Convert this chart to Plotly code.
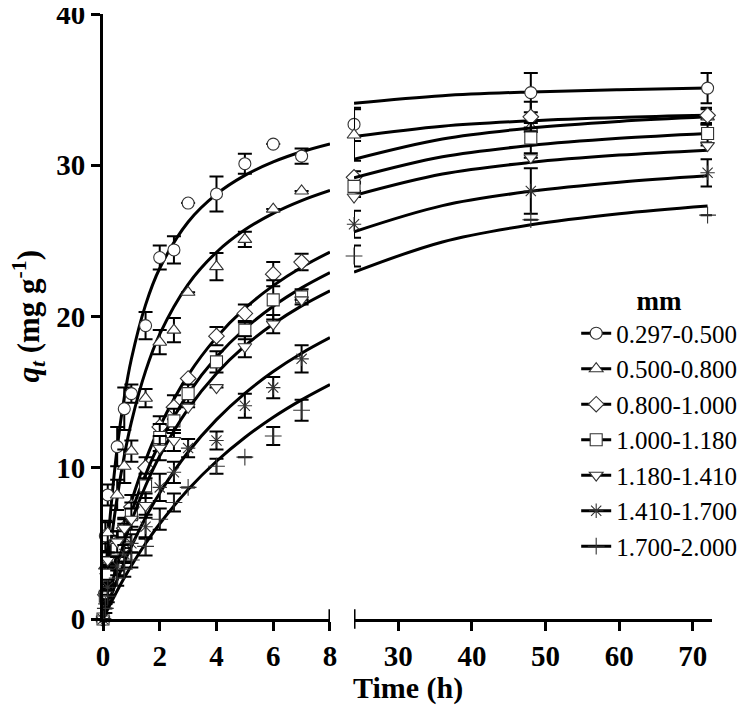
import plotly.graph_objects as go

# ---------------- data ----------------
time_early = [0, 0.083, 0.167, 0.5, 0.75, 1, 1.5, 2, 2.5, 3, 4, 5, 6, 7]
time_late = [24, 48, 72]

labels = ["0.297-0.500", "0.500-0.800", "0.800-1.000", "1.000-1.180",
          "1.180-1.410", "1.410-1.700", "1.700-2.000"]
symbols = ["circle", "triangle-up", "diamond", "square",
           "triangle-down", "asterisk-open", "cross-thin-open"]

q_0297 = [0, 5.5, 8.2, 11.4, 13.9, 14.9, 19.4, 23.9, 24.4, 27.5, 28.1, 30.1, 31.4, 30.6, 32.7, 34.8, 35.1]
q_0500 = [0, 3.5, 5.7, 8.2, 10.1, 11.1, 14.6, 18.3, 19.1, 21.6, 23.3, 25.1, 27.1, 28.3, 32.0, 32.5, 33.2]
q_0800 = [0, 1.6, 3.0, 5.0, 6.0, 7.4, 10.0, 12.7, 14.0, 15.9, 18.7, 20.2, 22.8, 23.6, 29.2, 33.2, 33.3]
q_1000 = [0, 1.5, 2.9, 4.6, 5.5, 6.9, 8.8, 12.0, 13.1, 14.9, 17.0, 19.1, 21.1, 21.3, 28.6, 31.8, 32.1]
q_1180 = [0, 1.6, 3.9, 5.1, 6.0, 6.6, 7.5, 11.3, 11.8, 14.0, 15.3, 18.0, 19.5, 21.1, 27.9, 30.5, 31.3]
q_1410 = [0, 1.0, 2.1, 3.5, 4.3, 5.0, 6.1, 8.7, 9.7, 11.3, 11.8, 14.1, 15.3, 17.2, 26.1, 28.3, 29.5]
q_1700 = [0, 0.7, 1.5, 2.7, 3.3, 3.9, 4.8, 6.6, 7.7, 8.7, 10.1, 10.7, 12.1, 13.8, 24.0, 26.4, 26.7]

e_0297 = [None, 1.0, 0.7, 1.3, 1.4, 0.6, 0.9, 0.8, 0.9, None, 1.15, 0.66, None, 0.5, 1.1, 1.3, 1.0]
e_0500 = [None, 0.6, 0.7, 1.0, 1.1, 0.7, 0.6, 0.8, 0.8, None, 0.9, 0.5, None, None, 1.7, None, 0.5]
e_0800 = [None, 0.5, 0.6, 0.8, 0.7, 0.8, 0.7, 0.7, 0.8, None, 0.6, 0.6, 0.8, 0.55, 0.4, 1.0, 0.5]
e_1000 = [None, 0.4, 0.6, 0.9, 0.8, 0.8, 0.8, 0.9, 0.8, 0.6, 0.7, 0.6, 1.3, 0.5, 0.3, 1.0, 0.6]
e_1180 = [None, 0.4, 0.5, 0.7, 0.6, 0.7, 0.8, 0.8, 0.7, None, None, 0.7, 0.6, None, None, None, None]
e_1410 = [None, 0.3, 0.5, 0.6, 0.6, 0.6, 0.8, 0.9, 0.7, 0.6, 0.6, 0.8, 0.7, 0.9, 0.9, 1.5, 0.9]
e_1700 = [None, 0.3, 0.4, 0.5, 0.5, 0.5, 0.6, 0.7, 0.6, None, 0.5, None, 0.6, 0.7, 0.7, None, None]

# fitted curves
curve_t_early = [0, 0.1, 0.25, 0.5, 0.75, 1, 1.5, 2, 3, 4, 5, 6, 7, 8]
curve_t_late = [24, 36, 48, 60, 72]
fit_0297 = [0, 3.04, 6.73, 11.33, 14.66, 17.19, 20.77, 23.19, 26.25, 28.09, 29.33, 30.22, 30.89, 31.41,
            34.1, 34.6, 34.85, 35.0, 35.1]
fit_0500 = [0, 1.98, 4.56, 8.04, 10.79, 13.02, 16.39, 18.84, 22.13, 24.25, 25.73, 26.82, 27.66, 28.33,
            31.9, 32.58, 32.94, 33.16, 33.3]
fit_0800 = [0, 0.97, 2.33, 4.38, 6.18, 7.77, 10.49, 12.71, 16.12, 18.62, 20.53, 22.04, 23.26, 24.26,
            30.4, 31.74, 32.46, 32.9, 33.2]
fit_1000 = [0, 0.87, 2.08, 3.92, 5.56, 7.03, 9.55, 11.64, 14.89, 17.32, 19.19, 20.68, 21.89, 22.9,
            29.17, 30.56, 31.31, 31.78, 32.1]
fit_1180 = [0, 0.78, 1.89, 3.58, 5.09, 6.45, 8.81, 10.78, 13.89, 16.23, 18.05, 19.5, 20.7, 21.7,
            28.0, 29.42, 30.19, 30.67, 31.0]
fit_1410 = [0, 0.56, 1.35, 2.6, 3.74, 4.8, 6.69, 8.33, 11.04, 13.18, 14.92, 16.36, 17.57, 18.6,
            25.6, 27.33, 28.28, 28.88, 29.3]
fit_1700 = [0, 0.39, 0.96, 1.87, 2.72, 3.52, 4.99, 6.3, 8.56, 10.43, 12.0, 13.34, 14.49, 15.5,
            22.93, 24.93, 26.06, 26.79, 27.3]

y_ticks = [0, 10, 20, 30, 40]
x1_ticks = [0, 2, 4, 6, 8]
x2_ticks = [30, 40, 50, 60, 70]

series_q = [q_0297, q_0500, q_0800, q_1000, q_1180, q_1410, q_1700]
series_e = [e_0297, e_0500, e_0800, e_1000, e_1180, e_1410, e_1700]
series_fit = [fit_0297, fit_0500, fit_0800, fit_1000, fit_1180, fit_1410, fit_1700]

# ---------------- figure ----------------
SERIF = "Liberation Serif"
fig = go.Figure()
ne = len(time_early)
nce = len(curve_t_early)

for lab, sym, q, e, fit in zip(labels, symbols, series_q, series_e, series_fit):
    mk = dict(symbol=sym, size=12, color="white", line=dict(color="#333333", width=1.1))
    if sym in ("asterisk-open", "cross-thin-open"):
        mk = dict(symbol=sym, size=12, color="#333333", line=dict(color="#333333", width=1.1))
    fig.add_trace(go.Scatter(x=curve_t_early, y=fit[:nce], mode="lines", xaxis="x", yaxis="y",
                             line=dict(color="black", width=3, shape="spline"), showlegend=False,
                             hoverinfo="skip"))
    fig.add_trace(go.Scatter(x=curve_t_late, y=fit[nce:], mode="lines", xaxis="x2", yaxis="y",
                             line=dict(color="black", width=3, shape="spline"), showlegend=False,
                             hoverinfo="skip"))
    fig.add_trace(go.Scatter(x=time_early, y=q[:ne], mode="markers", xaxis="x", yaxis="y",
                             marker=mk, cliponaxis=False, showlegend=False,
                             error_y=dict(type="data", array=e[:ne], visible=True,
                                          color="black", thickness=2, width=7)))
    fig.add_trace(go.Scatter(x=time_late, y=q[ne:], mode="markers", xaxis="x2", yaxis="y",
                             marker=mk, cliponaxis=False, showlegend=False,
                             error_y=dict(type="data", array=e[ne:], visible=True,
                                          color="black", thickness=2, width=7)))
    fig.add_trace(go.Scatter(x=[None], y=[None], mode="lines+markers", name=lab,
                             line=dict(color="black", width=3), marker=mk, xaxis="x", yaxis="y"))

axis_common = dict(showline=True, linecolor="black", linewidth=3, ticks="outside",
                   ticklen=9, tickwidth=3, tickcolor="black", showgrid=False, zeroline=False,
                   ticklabeloverflow="allow",
                   tickfont=dict(family=SERIF, size=29, color="black", weight="bold"))

# the page body has an 8 px margin; the figure is sized so it ends at the window edge
fig.update_layout(
    width=746, height=697,
    margin=dict(l=95, r=42, t=6, b=86, autoexpand=False),
    paper_bgcolor="white", plot_bgcolor="white",
    xaxis=dict(domain=[0, 0.3727], range=[0, 8], tickvals=x1_ticks, anchor="y", **axis_common),
    xaxis2=dict(domain=[0.4122, 1], range=[24, 72.6], tickvals=x2_ticks, anchor="y", **axis_common),
    yaxis=dict(domain=[0, 1], range=[0, 40], tickvals=y_ticks, anchor="x", **axis_common),
    legend=dict(x=0.777, y=0.568, xanchor="left", yanchor="top",
                font=dict(family=SERIF, size=25, color="black"),
                title=dict(text="<b>mm</b>", side="top center",
                           font=dict(family=SERIF, size=27, color="black")),
                bgcolor="rgba(0,0,0,0)", tracegroupgap=0, itemwidth=30),
    showlegend=True,
)

fig.add_shape(type="line", xref="x", yref="paper", x0=8, x1=8, y0=-0.016, y1=0.016,
              line=dict(color="black", width=3))
fig.add_shape(type="line", xref="x2", yref="paper", x0=24, x1=24, y0=-0.016, y1=0.016,
              line=dict(color="black", width=3))

fig.add_annotation(text="<b>Time (h)</b>", xref="paper", yref="paper", x=0.5, y=-0.1145,
                   xanchor="center", yanchor="middle", showarrow=False,
                   font=dict(family=SERIF, size=30, color="black"))
fig.add_annotation(text="<b><i>q<sub>t</sub></i> (mg g<sup>-1</sup>)</b>", xref="paper", yref="paper",
                   x=-0.123, y=0.5, xanchor="center", yanchor="middle", textangle=-90,
                   showarrow=False, font=dict(family=SERIF, size=31, color="black"))

fig.write_html("out.html")
